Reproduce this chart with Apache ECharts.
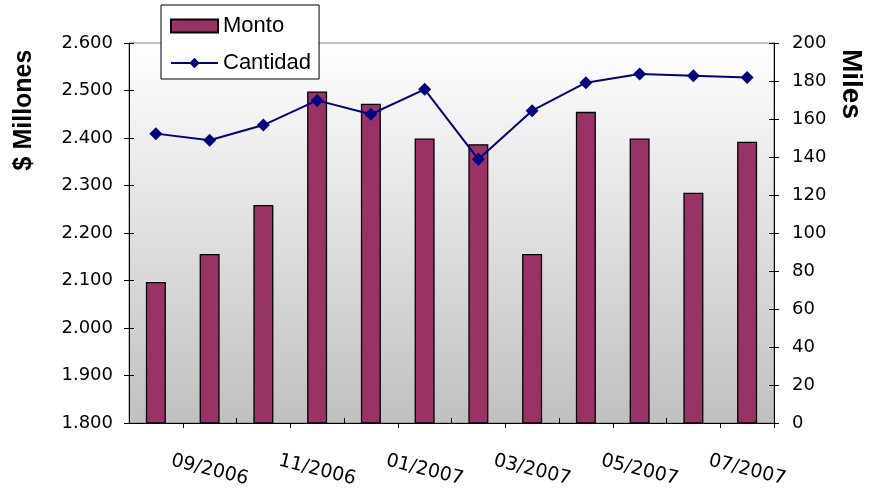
<!DOCTYPE html>
<html>
<head>
<meta charset="utf-8">
<script src="https://cdn.jsdelivr.net/npm/echarts@6/dist/echarts.min.js"></script>
<style>
  html, body { margin: 0; padding: 0; background: #ffffff; }
  #chart { width: 869px; height: 490px; }
</style>
</head>
<body>
<div id="chart"></div>
<script>
// Monthly categories
const months = ['08/2006', '09/2006', '10/2006', '11/2006', '12/2006', '01/2007',
                '02/2007', '03/2007', '04/2007', '05/2007', '06/2007', '07/2007'];
// Amount in millions of pesos (left axis)
const monto = [2097, 2156, 2259, 2498, 2472, 2399, 2387, 2156, 2455, 2399, 2285, 2392];
// Count in thousands (right axis)
const cantidad = [152.3, 148.8, 156.8, 169.8, 162.5, 175.6, 138.8, 164.4, 179.1, 183.7, 182.8, 181.9];

const leftAxis = { min: 1800, max: 2600, interval: 100 };
const rightAxis = { min: 0, max: 200, interval: 20 };

const tickFont = { fontFamily: 'DejaVu Sans', fontSize: 18, color: '#000' };
const black = { lineStyle: { color: '#000', width: 1 } };

const chart = echarts.init(document.getElementById('chart'), null, { renderer: 'canvas' });

chart.setOption({
  animation: false,
  backgroundColor: '#ffffff',
  grid: {
    left: 129, right: 95, top: 43, bottom: 67,
    show: true,
    borderColor: '#808080',
    borderWidth: 1,
    backgroundColor: new echarts.graphic.LinearGradient(0, 0, 0, 1, [
      { offset: 0, color: '#ffffff' },
      { offset: 1, color: '#c0c0c0' }
    ])
  },
  legend: {
    orient: 'vertical',
    left: 161, top: 5,
    padding: [10, 8, 5, 9],
    itemGap: 15,
    itemWidth: 47, itemHeight: 13,
    backgroundColor: '#ffffff',
    borderColor: '#000',
    borderWidth: 1,
    borderRadius: 0,
    textStyle: { fontFamily: 'Liberation Sans', fontSize: 22, color: '#000' },
    data: [
      { name: 'Monto', icon: 'rect' },
      { name: 'Cantidad' }
    ]
  },
  xAxis: [
    {
      type: 'category',
      data: months,
      position: 'bottom',
      axisLine: { show: true, ...black },
      axisTick: { show: true, inside: false, length: 5, ...black },
      axisLabel: {
        interval: (i) => i % 2 === 1,
        rotate: -14,
        align: 'center',
        verticalAlign: 'middle',
        margin: 47,
        fontFamily: 'DejaVu Sans', fontSize: 19, color: '#000'
      },
      splitLine: { show: false }
    },
    {
      type: 'category',
      data: months,
      position: 'bottom',
      axisLine: { show: false },
      axisTick: { show: true, inside: true, length: 5, ...black },
      axisLabel: { show: false },
      splitLine: { show: false }
    }
  ],
  yAxis: [
    {
      type: 'value', position: 'left', ...leftAxis,
      axisLine: { show: true, ...black },
      axisTick: { show: true, inside: false, length: 5, ...black },
      axisLabel: { ...tickFont, margin: 16, formatter: (v) => (v / 1000).toFixed(3) },
      splitLine: { show: false }
    },
    {
      type: 'value', position: 'left', ...leftAxis,
      axisLine: { show: false },
      axisTick: { show: true, inside: true, length: 5, ...black },
      axisLabel: { show: false },
      splitLine: { show: false }
    },
    {
      type: 'value', position: 'right', ...rightAxis,
      axisLine: { show: true, ...black },
      axisTick: { show: true, inside: false, length: 5, ...black },
      axisLabel: { ...tickFont, margin: 18 },
      splitLine: { show: false }
    },
    {
      type: 'value', position: 'right', ...rightAxis,
      axisLine: { show: false },
      axisTick: { show: true, inside: true, length: 5, ...black },
      axisLabel: { show: false },
      splitLine: { show: false }
    }
  ],
  series: [
    {
      name: 'Monto',
      type: 'bar',
      xAxisIndex: 0,
      yAxisIndex: 0,
      data: monto,
      barWidth: 20,
      itemStyle: { color: '#993366', borderColor: '#000', borderWidth: 1.3 },
      z: 2
    },
    {
      name: 'Cantidad',
      type: 'line',
      xAxisIndex: 0,
      yAxisIndex: 2,
      data: cantidad,
      symbol: 'diamond',
      symbolSize: [13, 13],
      lineStyle: { color: '#000080', width: 2 },
      itemStyle: { color: '#000080' },
      z: 3
    }
  ],
  graphic: [
    {
      type: 'text',
      x: 24, y: 110,
      rotation: Math.PI / 2,
      style: {
        text: '$ Millones',
        fontFamily: 'Liberation Sans', fontWeight: 'bold', fontSize: 25,
        fill: '#000', align: 'center', verticalAlign: 'middle'
      }
    },
    {
      type: 'text',
      x: 851, y: 84,
      rotation: -Math.PI / 2,
      style: {
        text: 'Miles',
        fontFamily: 'Liberation Sans', fontWeight: 'bold', fontSize: 28,
        fill: '#000', align: 'center', verticalAlign: 'middle'
      }
    }
  ]
});
</script>
</body>
</html>
